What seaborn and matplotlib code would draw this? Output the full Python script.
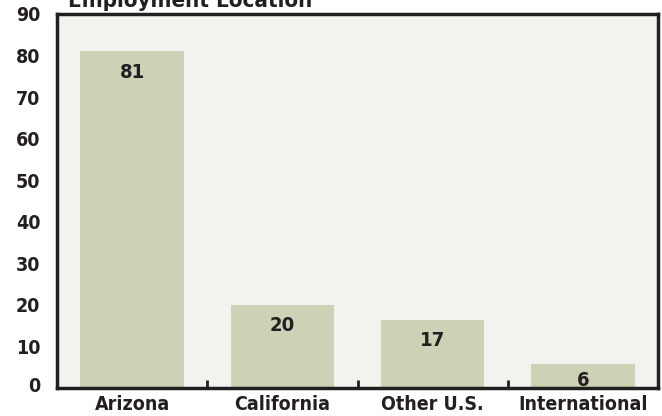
import matplotlib
matplotlib.use("Agg")
import matplotlib.pyplot as plt
import matplotlib.transforms as mtransforms
import seaborn as sns
import pandas as pd

categories = ["Arizona", "California", "Other U.S.", "International"]
values = [81, 20, 16.4, 5.7]
value_labels = ["81", "20", "17", "6"]
y_ticks = [0, 10, 20, 30, 40, 50, 60, 70, 80, 90]
title = "Employment Location"

sns.set_style("white")
plt.rcParams['font.family'] = ['DejaVu Sans']
plt.rcParams['font.stretch'] = 'condensed'

df = pd.DataFrame({"cat": categories, "val": values})
ink = "#231f20"

fig = plt.figure(figsize=(6.62, 4.16), dpi=100)
ax = fig.add_axes([57/662, 1-388/416, 601/662, 374/416])
ax.set_facecolor("#f2f3ee")
sns.barplot(data=df, x="cat", y="val", color="#cdd1b5", width=0.69, ax=ax,
            saturation=1, edgecolor="none")

ax.set_xlim(-0.5, 3.5)
ax.set_ylim(0, 90)
ax.set_yticks(y_ticks)
ylabs = ax.set_yticklabels([str(t) for t in y_ticks], fontsize=14, fontweight="bold",
                           color=ink, fontstretch="condensed")
ax.tick_params(axis="y", direction="out", length=9, width=2.2, color=ink, pad=3)
# the "0" label sits slightly above the axis line in the reference
ylabs[0].set_transform(ylabs[0].get_transform() +
                       mtransforms.ScaledTranslation(0, 3/100, fig.dpi_scale_trans))
ax.set_xticks(range(len(categories)))
ax.set_xticklabels(categories, fontsize=14, fontweight="bold", color=ink,
                   fontstretch="condensed")
ax.tick_params(axis="x", length=0, pad=5)
for x in [0.5, 1.5, 2.5]:
    ax.plot([x, x], [0, 2.0], color=ink, lw=2, solid_capstyle="butt", clip_on=False)

for s in ax.spines.values():
    s.set_visible(True)
    s.set_color(ink)
    s.set_linewidth(2.5)

ax.set_xlabel("")
ax.set_ylabel("")

for i, (v, lab) in enumerate(zip(values, value_labels)):
    off = -8 if v > 10 else -4.5
    ax.annotate(lab, (i, v), xytext=(0, off), textcoords="offset points",
                ha="center", va="top", fontsize=14.5, fontweight="bold",
                fontstretch="condensed", color=ink)

fig.text(68/662, 1-7/416, title, ha="left", va="baseline", fontsize=16,
         fontweight="bold", fontstretch="condensed", color=ink)

fig.savefig("out.png", dpi=100)
